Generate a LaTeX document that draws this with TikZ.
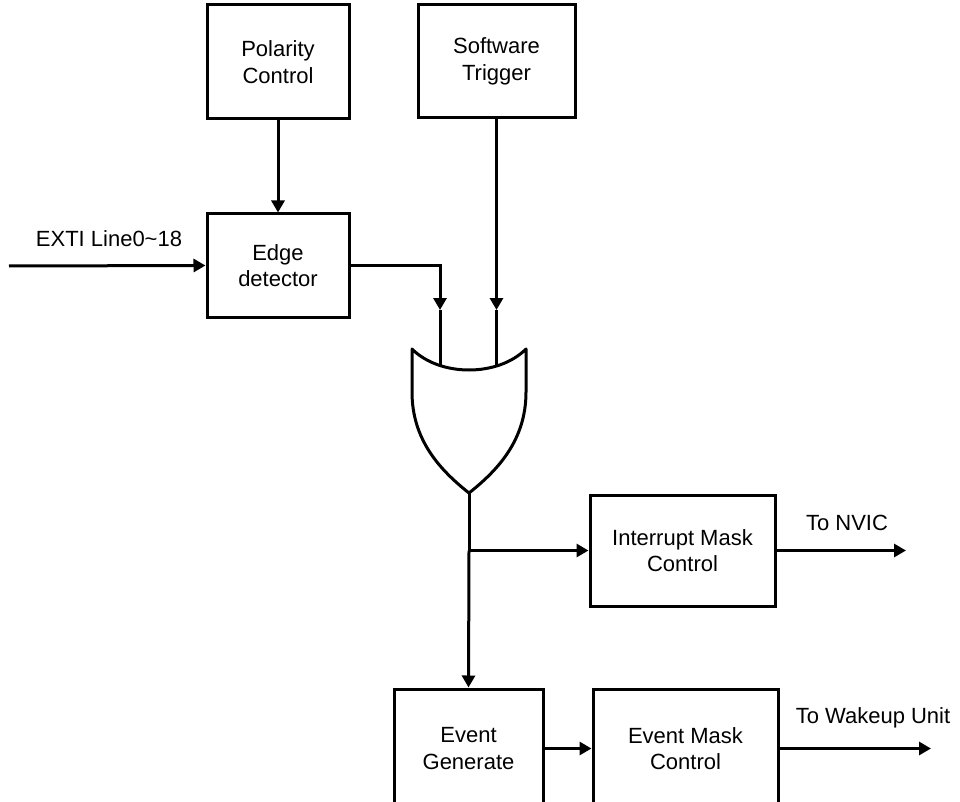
\documentclass[tikz,border=0pt]{standalone}
\usepackage{fontspec}
\setmainfont{Liberation Sans}
\usetikzlibrary{arrows.meta}
\begin{document}
\begin{tikzpicture}[x=1pt,y=-1pt,
  line width=3pt,
  blk/.style={draw, line width=3pt, fill=white, align=center, inner sep=0pt,
    font=\fontsize{22}{26.5}\selectfont},
  lbl/.style={font=\fontsize{22}{26.5}\selectfont, inner sep=0pt},
  arr/.style={-{Triangle[length=12pt,width=13pt]}, line width=3pt}]
\useasboundingbox (0,0) rectangle (960,802);
% boxes
\node[blk, minimum width=142pt, minimum height=114pt] (pol) at (278,62) {Polarity\\Control};
\node[blk, minimum width=157pt, minimum height=113pt] (sw) at (496.5,61.5) {Software\\Trigger};
\node[blk, minimum width=142pt, minimum height=103pt] (edge) at (278,265.5) {Edge\\detector};
\node[blk, minimum width=185pt, minimum height=111pt] (imc) at (682.5,550.5) {Interrupt Mask\\Control};
\node[blk, minimum width=149pt, minimum height=119pt] (eg) at (468.5,748.5) {Event\\Generate};
\node[blk, minimum width=185pt, minimum height=119pt] (emc) at (685.5,748.5) {Event Mask\\Control};
% coordinates
\coordinate (exti) at (9,266);
\coordinate (in1tip) at (440,310);
\coordinate (in1end) at (440,378);
\coordinate (in2tip) at (496.5,310);
\coordinate (in2end) at (496.5,378);
\coordinate (gtip) at (469,493);
\coordinate (branch) at (469,550.5);
\coordinate (nvic) at (906,550.5);
\coordinate (wake) at (931,748.5);
% connectors
\draw[arr] (pol.south) -- (edge.north);
\draw[arr] (exti) -- (edge.west);
\draw[arr] (edge.east) -| (in1tip);
\draw (in1tip) -- (in1end);
\draw[arr] (sw.south) -- (in2tip);
\draw (in2tip) -- (in2end);
% OR gate
\draw[line width=3pt, fill=white, line join=round]
  (412,349) .. controls (440,377) and (498,377) .. (526,349)
  -- (526,392) .. controls (526,440) and (498,470) .. (gtip)
  .. controls (440,470) and (412,440) .. (412,392) -- cycle;
\draw (gtip) -- (branch);
\draw[arr] (branch) -- (eg.north);
\draw[arr] (branch) -- (imc.west);
\draw[arr] (imc.east) -- (nvic);
\draw[arr] (eg.east) -- (emc.west);
\draw[arr] (emc.east) -- (wake);
% labels
\node[lbl] (lexti) at (109,239) {EXTI Line0\char`~18};
\node[lbl] (lnvic) at (847,523) {To NVIC};
\node[lbl] (lwake) at (873,718) {To Wakeup Unit};
\end{tikzpicture}
\end{document}
